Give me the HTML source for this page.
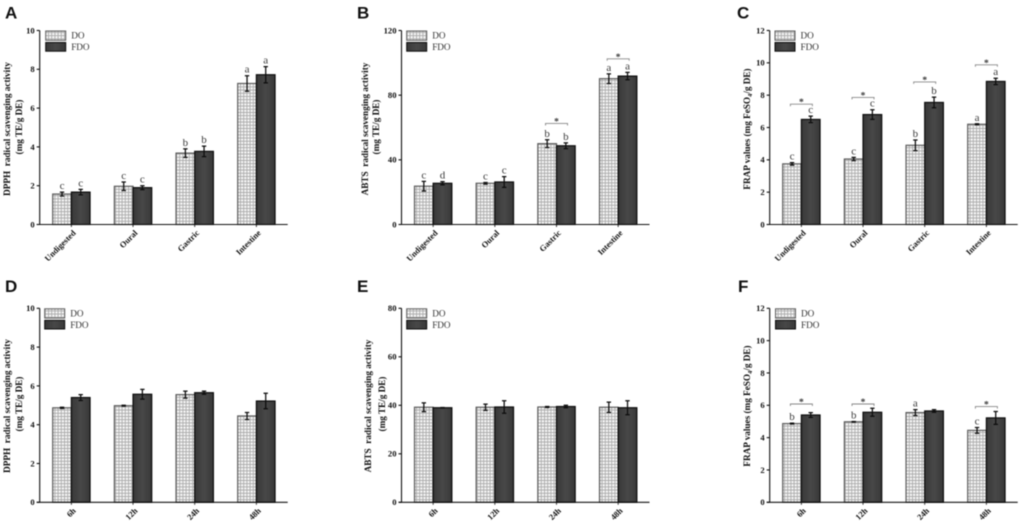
<!DOCTYPE html>
<html lang="en">
<head>
<meta charset="utf-8">
<title>Antioxidant activity of DO and FDO</title>
<style>
html,body{margin:0;padding:0;background:#fff;width:1021px;height:524px;overflow:hidden}
svg{display:block;filter:blur(.4px)}
text{font-family:"Liberation Serif",serif;white-space:pre}
.panel-letter{font-family:"Liberation Sans",sans-serif;font-weight:700;font-size:17px;fill:#111}
.axis-title{font-weight:700;font-size:9.2px;fill:#111;text-anchor:middle}
.tick-label{font-weight:700;font-size:8.6px;fill:#111;text-anchor:end}
.cat-label{font-weight:700;font-size:8.4px;fill:#111;text-anchor:end}
.legend-label{font-size:9.2px;fill:#333}
.sig-letter{font-size:11px;fill:#3a3a3a;text-anchor:middle}
.star{font-size:9.5px;font-weight:700;fill:#333;text-anchor:middle}
</style>
</head>
<body>
<svg id="figure" width="1021" height="524" viewBox="0 0 1021 524" xmlns="http://www.w3.org/2000/svg">
<defs>
<pattern id="grid-fill" width="3.2" height="3.2" patternUnits="userSpaceOnUse">
<rect width="3.2" height="3.2" fill="#f7f7f7"/>
<path d="M0 .5H3.2M.5 0V3.2" stroke="#a9a9a9" stroke-width=".9" fill="none"/>
</pattern>
<linearGradient id="dark-fill" x1="0" x2="1" y1="0" y2="0">
<stop offset="0" stop-color="#383838"/>
<stop offset=".5" stop-color="#484848"/>
<stop offset="1" stop-color="#383838"/>
</linearGradient>
</defs>

<text class="panel-letter" x="5" y="18.5">A</text>
<text class="panel-letter" x="357" y="18.5">B</text>
<text class="panel-letter" x="737" y="18.5">C</text>
<text class="panel-letter" x="5" y="292">D</text>
<text class="panel-letter" x="357" y="292">E</text>
<text class="panel-letter" x="738" y="292">F</text>

<text class="axis-title" transform="translate(10,129) rotate(-90)">DPPH  radical scavenging activity</text>
<text class="axis-title" transform="translate(22,127) rotate(-90)">(mg TE/g DE)</text>
<text class="axis-title" transform="translate(368,129) rotate(-90)">ABTS  radical scavenging activity</text>
<text class="axis-title" transform="translate(379,127) rotate(-90)">(mg TE/g DE)</text>
<text class="axis-title" transform="translate(750,129) rotate(-90)">FRAP values (mg FeSO<tspan font-size="6.6" dy="2">4</tspan><tspan dy="-2">/g DE)</tspan></text>
<text class="axis-title" transform="translate(10,406) rotate(-90)">DPPH  radical scavenging activity</text>
<text class="axis-title" transform="translate(22,404) rotate(-90)">(mg TE/g DE)</text>
<text class="axis-title" transform="translate(371,406) rotate(-90)">ABTS  radical scavenging activity</text>
<text class="axis-title" transform="translate(385,404) rotate(-90)">(mg TE/g DE)</text>
<text class="axis-title" transform="translate(750,406) rotate(-90)">FRAP values (mg FeSO<tspan font-size="6.6" dy="2">4</tspan><tspan dy="-2">/g DE)</tspan></text>
</svg>

<script>
var seriesNames = ['DO', 'FDO'];
var digestionCategories = ['Undigested', 'Oural', 'Gastric', 'Intestine'];
var timeCategories = ['6h', '12h', '24h', '48h'];

var aTicks = [0, 2, 4, 6, 8, 10];
var aDO = [1.57, 1.97, 3.68, 7.27];
var aFDO = [1.67, 1.90, 3.77, 7.72];
var aDOErr = [0.10, 0.22, 0.22, 0.40];
var aFDOErr = [0.14, 0.10, 0.27, 0.42];
var aDOLetters = ['c', 'c', 'b', 'a'];
var aFDOLetters = ['c', 'c', 'b', 'a'];
var aBrackets = [null, null, null, null];

var bTicks = [0, 40, 80, 120];
var bDO = [23.7, 25.5, 50.0, 90.2];
var bFDO = [25.5, 26.3, 48.7, 91.8];
var bDOErr = [3.0, 0.5, 2.4, 3.0];
var bFDOErr = [1.0, 3.3, 1.8, 2.3];
var bDOLetters = ['c', 'c', 'b', 'a'];
var bFDOLetters = ['d', 'c', 'b', 'a'];
var bBrackets = [null, null, 62.5, 102.5];

var cTicks = [0, 2, 4, 6, 8, 10, 12];
var cDO = [3.75, 4.05, 4.90, 6.20];
var cFDO = [6.50, 6.80, 7.55, 8.85];
var cDOErr = [0.08, 0.10, 0.33, 0.03];
var cFDOErr = [0.20, 0.30, 0.33, 0.20];
var cDOLetters = ['c', 'c', 'b', 'a'];
var cFDOLetters = ['c', 'c', 'b', 'a'];
var cBrackets = [7.44, 7.86, 8.82, 9.88];

var dTicks = [0, 2, 4, 6, 8, 10];
var dDO = [4.87, 4.98, 5.55, 4.45];
var dFDO = [5.40, 5.57, 5.65, 5.22];
var dDOErr = [0.03, 0.02, 0.18, 0.18];
var dFDOErr = [0.15, 0.25, 0.08, 0.40];
var dDOLetters = ['', '', '', ''];
var dFDOLetters = ['', '', '', ''];
var dBrackets = [null, null, null, null];

var eTicks = [0, 20, 40, 60, 80];
var eDO = [39.2, 39.2, 39.3, 39.2];
var eFDO = [39.0, 39.3, 39.5, 39.0];
var eDOErr = [1.8, 1.3, 0.2, 2.1];
var eFDOErr = [0.1, 2.6, 0.5, 2.9];
var eDOLetters = ['', '', '', ''];
var eFDOLetters = ['', '', '', ''];
var eBrackets = [null, null, null, null];

var fTicks = [0, 2, 4, 6, 8, 10, 12];
var fDO = [4.87, 4.98, 5.55, 4.45];
var fFDO = [5.40, 5.57, 5.65, 5.22];
var fDOErr = [0.03, 0.02, 0.18, 0.18];
var fFDOErr = [0.15, 0.25, 0.08, 0.40];
var fDOLetters = ['b', 'b', 'a', 'c'];
var fFDOLetters = ['', '', '', ''];
var fBrackets = [6.08, 6.08, null, 5.92];

var NS = 'http://www.w3.org/2000/svg';
var figure = document.getElementById('figure');

function make(parent, tag, attrs, content) {
  var el = document.createElementNS(NS, tag);
  for (var key in attrs) el.setAttribute(key, attrs[key]);
  if (content !== undefined) el.textContent = content;
  parent.appendChild(el);
  return el;
}

function drawPanel(id, frame, categories, ticks, doValues, fdoValues, doErr, fdoErr, doLetters, fdoLetters, brackets) {
  var plotHeight = frame.bottom - frame.top;
  var maxTick = ticks[ticks.length - 1];
  var barWidth = 18.67;
  var groupStep = 61.67;
  var firstBar = frame.axisX + 13;

  function yScale(value) {
    return frame.bottom - value / maxTick * plotHeight;
  }
  function groupCenter(index) {
    return firstBar + barWidth + index * groupStep;
  }

  var panel = make(figure, 'g', {});
  
  

  categories.forEach(function (category, i) {
    var center = groupCenter(i);
    [[doValues, doErr, doLetters, -1], [fdoValues, fdoErr, fdoLetters, 0]].forEach(function (set, s) {
      var x = center + set[3] * barWidth;
      var value = set[0][i];
      var y = yScale(value);
      var bar = make(panel, 'rect', {
        x: x, y: y, width: barWidth, height: frame.bottom - y,
        fill: s === 0 ? 'url(#grid-fill)' : 'url(#dark-fill)',
        stroke: s === 0 ? '#5c5c5c' : '#0c0c0c', 'stroke-width': 1.2
      });
      
      

      var mid = x + barWidth / 2;
      var errTop = yScale(value + set[1][i]);
      var errBottom = yScale(value - set[1][i]);
      var err = make(panel, 'path', {
        d: 'M' + (mid - 2.2) + ' ' + errTop + 'H' + (mid + 2.2) + 'M' + mid + ' ' + errTop + 'V' + errBottom + 'M' + (mid - 2.2) + ' ' + errBottom + 'H' + (mid + 2.2),
        stroke: '#0c0c0c', 'stroke-width': 1.25, fill: 'none'
      });
      
      

      if (set[2][i]) {
        var letter = make(panel, 'text', { 'class': 'sig-letter', x: mid, y: errTop - 3 }, set[2][i]);
        
        
      }
    });

    if (brackets[i] !== null) {
      var by = yScale(brackets[i]);
      var bracket = make(panel, 'path', {
        d: 'M' + (center - 11) + ' ' + (by + 2) + 'V' + by + 'H' + (center + 11) + 'V' + (by + 2),
        stroke: '#888', 'stroke-width': .9, fill: 'none'
      });
      
      
      var star = make(panel, 'text', { 'class': 'star', x: center, y: by + 1 }, '*');
      
      
    }

    var tick = make(panel, 'line', {
      x1: center, x2: center, y1: frame.bottom, y2: frame.bottom + 2.5, stroke: '#222', 'stroke-width': .9
    });
    
    
    var lx = center + 5;
    var ly = frame.bottom + 9;
    var label = make(panel, 'text', {
      'class': 'cat-label', x: lx, y: ly, transform: 'rotate(-45 ' + lx + ' ' + ly + ')'
    }, category);
    
    
  });

  var yAxis = make(panel, 'line', {
    x1: frame.axisX, x2: frame.axisX, y1: frame.top, y2: frame.bottom, stroke: '#111', 'stroke-width': 1.1
  });
  
  
  var xAxis = make(panel, 'line', {
    x1: frame.axisX - 3, x2: frame.axisX + 248, y1: frame.bottom, y2: frame.bottom, stroke: '#111', 'stroke-width': 1.1
  });
  
  

  ticks.forEach(function (value) {
    var y = yScale(value);
    var mark = make(panel, 'line', {
      x1: frame.axisX - 3, x2: frame.axisX, y1: y, y2: y, stroke: '#111', 'stroke-width': 1.1
    });
    
    
    var text = make(panel, 'text', { 'class': 'tick-label', x: frame.axisX - 5, y: y + 2.9 }, String(value));
    
    
  });

  var doSwatch = make(panel, 'rect', {
    x: frame.legendX, y: frame.top + .5, width: 20, height: 9.3,
    fill: 'url(#grid-fill)', stroke: '#5c5c5c', 'stroke-width': 1
  });
  
  
  var fdoSwatch = make(panel, 'rect', {
    x: frame.legendX, y: frame.top + 12, width: 20, height: 8.7,
    fill: 'url(#dark-fill)', stroke: '#0c0c0c', 'stroke-width': 1
  });
  
  
  var doText = make(panel, 'text', { 'class': 'legend-label', x: frame.legendX + 25.5, y: frame.top + 8 }, seriesNames[0]);
  
  
  var fdoText = make(panel, 'text', { 'class': 'legend-label', x: frame.legendX + 25.5, y: frame.top + 19.5 }, seriesNames[1]);
  
  
}

drawPanel('a', { axisX: 39.7, top: 30.5, bottom: 224.5, legendX: 45.7 }, digestionCategories, aTicks, aDO, aFDO, aDOErr, aFDOErr, aDOLetters, aFDOLetters, aBrackets);
drawPanel('b', { axisX: 401.5, top: 30.5, bottom: 224.5, legendX: 406.7 }, digestionCategories, bTicks, bDO, bFDO, bDOErr, bFDOErr, bDOLetters, bFDOLetters, bBrackets);
drawPanel('c', { axisX: 769.7, top: 30.5, bottom: 224.5, legendX: 775 }, digestionCategories, cTicks, cDO, cFDO, cDOErr, cFDOErr, cDOLetters, cFDOLetters, cBrackets);
drawPanel('d', { axisX: 39.7, top: 308.3, bottom: 502.3, legendX: 44.7 }, timeCategories, dTicks, dDO, dFDO, dDOErr, dFDOErr, dDOLetters, dFDOLetters, dBrackets);
drawPanel('e', { axisX: 401.5, top: 308.3, bottom: 502.3, legendX: 406.7 }, timeCategories, eTicks, eDO, eFDO, eDOErr, eFDOErr, eDOLetters, eFDOLetters, eBrackets);
drawPanel('f', { axisX: 769.7, top: 308.3, bottom: 502.3, legendX: 775.5 }, timeCategories, fTicks, fDO, fFDO, fDOErr, fFDOErr, fDOLetters, fFDOLetters, fBrackets);
</script>
</body>
</html>
